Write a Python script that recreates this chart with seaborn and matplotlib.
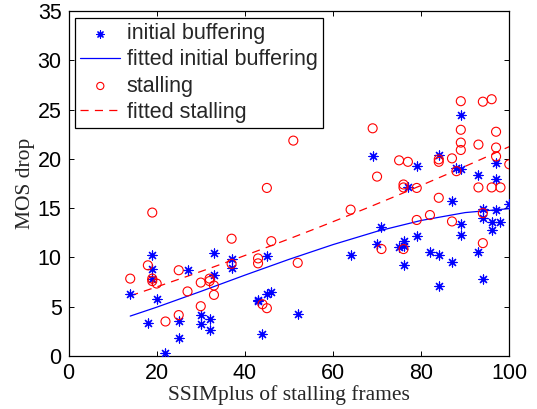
import numpy as np
import matplotlib
matplotlib.use("Agg")
import matplotlib.pyplot as plt
import seaborn as sns

# SSIMplus of stalling frames (shared x values)
x_init = [14, 18, 19, 19, 19, 20, 22, 25, 25, 27, 30, 30, 32, 32, 33, 33, 37, 37,
          43, 43, 44, 45, 45, 46, 52, 64, 69, 70, 71, 75, 76, 76, 76, 77, 79, 79,
          82, 84, 84, 84, 87, 87, 88, 89, 89, 89, 89, 93, 93, 94, 94, 94, 96, 96,
          97, 97, 97, 98, 100]
y_init = [6.3, 3.3, 10.2, 8.8, 7.85, 5.8, 0.35, 3.5, 1.85, 8.7, 4.2, 3.25, 3.8, 2.6,
          10.4, 8.25, 9.85, 8.9, 5.7, 5.6, 2.2, 10.1, 6.3, 6.5, 4.25, 10.25, 20.25,
          11.4, 13.1, 11.1, 11.7, 11.15, 9.2, 17.15, 19.3, 12.15, 10.55, 20.35,
          10.25, 7.15, 15.7, 9.5, 19.05, 24.4, 19.0, 13.4, 12.3, 18.35, 10.6, 14.95,
          14.0, 7.85, 13.55, 12.8, 19.55, 18.0, 14.8, 13.55, 15.4]

x_stall = [14, 18, 19, 19, 19, 20, 22, 25, 25, 27, 30, 30, 32, 32, 33, 33, 37, 37,
           43, 43, 44, 45, 45, 46, 51, 52, 64, 69, 70, 71, 75, 76, 76, 76, 77, 79,
           79, 82, 84, 84, 84, 87, 87, 88, 89, 89, 89, 89, 93, 93, 94, 94, 94, 96,
           96, 97, 97, 97, 98, 100]
y_stall = [7.85, 9.2, 14.55, 7.85, 7.6, 7.35, 3.5, 8.7, 4.15, 6.55, 7.45, 5.05, 7.85,
           7.6, 7.15, 6.2, 11.9, 9.35, 9.9, 9.4, 5.25, 17.05, 4.85, 11.65, 21.85,
           9.45, 14.85, 23.1, 18.2, 10.85, 19.85, 17.4, 17.1, 10.85, 19.7, 17.05,
           13.8, 14.3, 19.95, 19.7, 16.05, 20.05, 13.65, 18.75, 25.85, 22.95, 21.65,
           20.9, 21.45, 17.1, 25.8, 14.5, 11.45, 26.05, 17.1, 22.75, 21.15, 20.25,
           17.1, 19.45]

# fitted initial-buffering curve
xf_init = [14, 20, 30, 40, 50, 60, 70, 80, 90, 100]
yf_init = [4.05, 4.95, 6.55, 8.2, 9.8, 11.3, 12.65, 13.75, 14.55, 14.95]

xticks = [0, 20, 40, 60, 80, 100]
yticks = [0, 5, 10, 15, 20, 25, 30, 35]

# fitted stalling curve (quadratic fit of the stalling data)
xf_stall = np.linspace(min(x_stall), max(x_stall), 200)
yf_stall = np.polyval(np.polyfit(x_stall, y_stall, 2), xf_stall)

sns.set_theme(style="white")
plt.rcParams['font.family'] = ['Liberation Sans', 'DejaVu Sans']

FS = 15.5
fig = plt.figure(figsize=(5.37, 4.09), dpi=100)
ax = fig.add_axes([0.1276, 0.1296, 0.8208, 0.8435])

sns.scatterplot(x=x_init, y=y_init, ax=ax, marker=(8, 2, 0), s=42,
                color='#0000ff', edgecolor='#0000ff', linewidth=0.85,
                label='initial buffering', zorder=3)
sns.lineplot(x=xf_init, y=yf_init, ax=ax, color='#0000ff', linewidth=0.9,
             label='fitted initial buffering', zorder=2)
sns.scatterplot(x=x_stall, y=y_stall, ax=ax, marker='o', s=42,
                facecolor='none', edgecolor='#ff0000', linewidth=0.8,
                label='stalling', zorder=3)
sns.lineplot(x=xf_stall, y=yf_stall, ax=ax, color='#ff0000', linewidth=0.9,
             linestyle=(0, (6.5, 5)), label='fitted stalling', zorder=2)

ax.set_xlim(0, 100)
ax.set_ylim(0, 35)
ax.set_xticks(xticks)
ax.set_yticks(yticks)
ax.tick_params(direction='in', length=3.5, width=0.7, colors='black',
               labelsize=FS, top=True, right=True, bottom=True, left=True,
               pad=5)
for s in ax.spines.values():
    s.set_color('black')
    s.set_linewidth(0.9)

ax.set_xlabel('SSIMplus of stalling frames', family='Liberation Serif',
              fontsize=FS, labelpad=1)
ax.set_ylabel('MOS drop', family='Liberation Serif', fontsize=FS, labelpad=2)

leg = ax.legend(loc='upper left', bbox_to_anchor=(0.0147, 0.980), borderaxespad=0,
                fontsize=FS, frameon=True, fancybox=False, framealpha=1,
                edgecolor='black', handlelength=1.85, handletextpad=0.3,
                labelspacing=0.24, borderpad=0.25, markerscale=0.8)
leg.get_frame().set_linewidth(0.9)

fig.savefig('out.png', dpi=100)
